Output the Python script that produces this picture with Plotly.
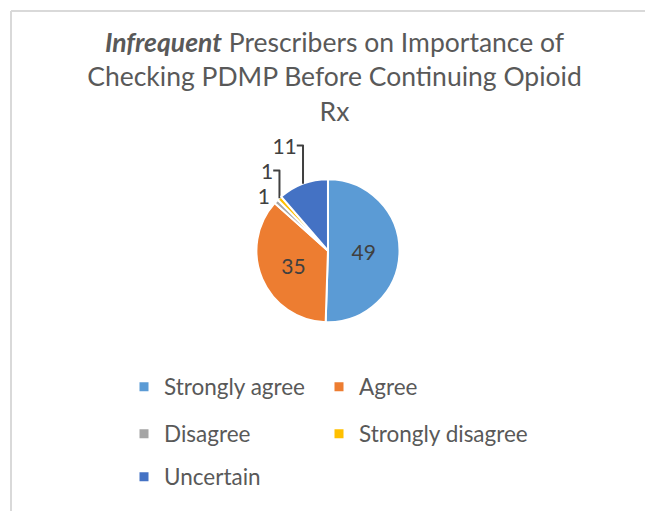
import plotly.graph_objects as go

labels = ["Strongly agree", "Agree", "Disagree", "Strongly disagree", "Uncertain"]
values = [49, 35, 1, 1, 11]
colors = ["#5B9BD5", "#ED7D31", "#A5A5A5", "#FFC000", "#4472C4"]
text_positions = ["inside", "inside", "outside", "outside", "outside"]
legend_ids = ["legend", "legend2", "legend3", "legend4", "legend5"]

title_text = ("<b><i>Infrequent</i></b> Prescribers on Importance of<br>"
              "Checking PDMP Before Continuing Opioid<br>Rx")

FONT = "Lato"
TXT = "#595959"
W, H = 653, 511

fig = go.Figure()
fig.add_trace(go.Pie(
    labels=labels,
    values=values,
    sort=False,
    direction="clockwise",
    rotation=0,
    marker=dict(colors=colors, line=dict(color="white", width=2)),
    textinfo="value",
    textposition=text_positions,
    insidetextorientation="horizontal",
    textfont=dict(family=FONT, size=21, color="#404040"),
    domain=dict(x=[0.380, 0.600], y=[0.385, 0.665]),
    hoverinfo="label+value",
    showlegend=False,
))

# legend entries (one per category, arranged in Excel-like grid)
for lab, col, lg in zip(labels, colors, legend_ids):
    fig.add_trace(go.Scatter(
        x=[None], y=[None], mode="markers", name=lab,
        marker=dict(symbol="square", size=9, color=col),
        legend=lg, showlegend=True, hoverinfo="skip",
    ))

col1_x = 116 / W
col2_x = 311 / W
row_y = [1 - 379 / H, 1 - 426 / H, 1 - 469 / H]

leg_common = dict(
    orientation="h",
    xanchor="left", yanchor="middle",
    font=dict(family=FONT, size=22.5, color=TXT),
    itemclick=False, itemdoubleclick=False,
    bgcolor="rgba(0,0,0,0)",
)

bx, by = 3 / W, 1 - 3 / H
fig.update_layout(
    width=W, height=H,
    margin=dict(l=0, r=0, t=0, b=0),
    paper_bgcolor="white",
    plot_bgcolor="white",
    font=dict(family=FONT, color=TXT),
    xaxis=dict(visible=False),
    yaxis=dict(visible=False),
    title=dict(
        text=title_text,
        x=0.5, xanchor="center",
        y=0.914, yanchor="top",
        font=dict(family=FONT, size=26.5, color=TXT),
    ),
    legend=dict(leg_common, x=col1_x, y=row_y[0]),
    legend2=dict(leg_common, x=col2_x, y=row_y[0]),
    legend3=dict(leg_common, x=col1_x, y=row_y[1]),
    legend4=dict(leg_common, x=col2_x, y=row_y[1]),
    legend5=dict(leg_common, x=col1_x, y=row_y[2]),
    shapes=[
        dict(type="line", xref="paper", yref="paper",
             x0=bx, y0=0, x1=bx, y1=by,
             line=dict(color="#D9D9D9", width=2)),
        dict(type="line", xref="paper", yref="paper",
             x0=bx, y0=by, x1=1, y1=by,
             line=dict(color="#D9D9D9", width=2)),
    ],
)

fig.write_html("out.html")
